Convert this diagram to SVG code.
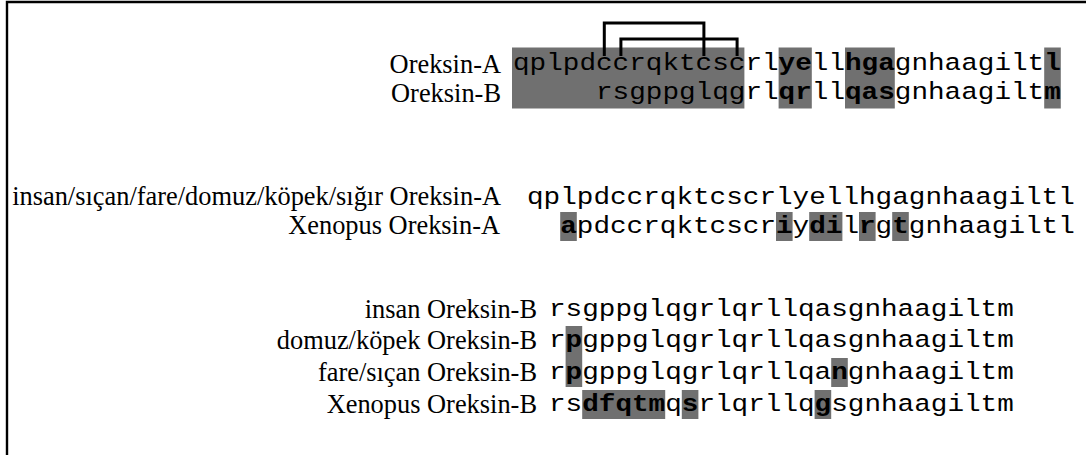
<svg xmlns="http://www.w3.org/2000/svg" width="1086" height="455" viewBox="0 0 1086 455">
<style>
.lbl{font-family:"Liberation Serif","Times New Roman",serif;font-size:26.4px;fill:#000;text-anchor:end}
.seq{font-family:"Courier New","Liberation Mono",monospace;font-size:24.5px;fill:#000}
.b{font-weight:bold}
.hl{fill:#707070}
.frame{fill:none;stroke:#000;stroke-width:2.4}
.ss{fill:none;stroke:#000;stroke-width:3}
</style>
<rect width="1086" height="455" fill="#fff"/>
<path class="frame" d="M7,455 V2 H1086"/>

<g id="human-orexin-ab">
  <rect class="hl" x="512" y="47.5" width="232.4" height="61"/>
  <rect class="hl" x="778.6" y="47.5" width="33.2" height="61"/>
  <rect class="hl" x="845" y="47.5" width="49.8" height="61"/>
  <rect class="hl" x="1044.2" y="47.5" width="16.6" height="61"/>
  <text class="lbl" x="501" y="73">Oreksin-A</text>
  <text class="lbl" x="501" y="102">Oreksin-B</text>
  <text class="seq" x="513" y="70" textLength="547.8" lengthAdjust="spacingAndGlyphs">qplpdccrqktcscrl<tspan class="b">ye</tspan>ll<tspan class="b">hga</tspan>gnhaagilt<tspan class="b">l</tspan></text>
  <text class="seq" x="596" y="99" textLength="464.8" lengthAdjust="spacingAndGlyphs">rsgppglqgrl<tspan class="b">qr</tspan>ll<tspan class="b">qas</tspan>gnhaagilt<tspan class="b">m</tspan></text>
</g>

<g id="orexin-a-species">
  <rect class="hl" x="560.2" y="212" width="16.6" height="29"/>
  <rect class="hl" x="776" y="212" width="16.6" height="29"/>
  <rect class="hl" x="809.2" y="212" width="33.2" height="29"/>
  <rect class="hl" x="859" y="212" width="16.6" height="29"/>
  <rect class="hl" x="892.2" y="212" width="16.6" height="29"/>
  <text class="lbl" x="501" y="205">insan/sıçan/fare/domuz/köpek/sığır Oreksin-A</text>
  <text class="lbl" x="500" y="234">Xenopus Oreksin-A</text>
  <text class="seq" x="527" y="204" textLength="547.8" lengthAdjust="spacingAndGlyphs">qplpdccrqktcscrlyellhgagnhaagiltl</text>
  <text class="seq" x="560.2" y="233" textLength="514.6" lengthAdjust="spacingAndGlyphs"><tspan class="b">a</tspan>pdccrqktcscr<tspan class="b">i</tspan>y<tspan class="b">di</tspan>l<tspan class="b">r</tspan>g<tspan class="b">t</tspan>gnhaagiltl</text>
</g>

<g id="orexin-b-species">
  <rect class="hl" x="565.6" y="326" width="16.6" height="61"/>
  <rect class="hl" x="831.2" y="358" width="16.6" height="29"/>
  <rect class="hl" x="582.2" y="390" width="83" height="29"/>
  <rect class="hl" x="681.8" y="390" width="16.6" height="29"/>
  <rect class="hl" x="814.6" y="390" width="16.6" height="29"/>
  <text class="lbl" x="537" y="318">insan Oreksin-B</text>
  <text class="lbl" x="537" y="349">domuz/köpek Oreksin-B</text>
  <text class="lbl" x="537" y="381">fare/sıçan Oreksin-B</text>
  <text class="lbl" x="537" y="413">Xenopus Oreksin-B</text>
  <text class="seq" x="549" y="316" textLength="464.8" lengthAdjust="spacingAndGlyphs">rsgppglqgrlqrllqasgnhaagiltm</text>
  <text class="seq" x="549" y="347" textLength="464.8" lengthAdjust="spacingAndGlyphs">r<tspan class="b">p</tspan>gppglqgrlqrllqasgnhaagiltm</text>
  <text class="seq" x="549" y="379" textLength="464.8" lengthAdjust="spacingAndGlyphs">r<tspan class="b">p</tspan>gppglqgrlqrllqa<tspan class="b">n</tspan>gnhaagiltm</text>
  <text class="seq" x="549" y="411" textLength="464.8" lengthAdjust="spacingAndGlyphs">rs<tspan class="b">dfqtm</tspan>q<tspan class="b">s</tspan>rlqrllq<tspan class="b">g</tspan>sgnhaagiltm</text>
</g>

<g id="connectors">
  <path class="ss" d="M604.3,56 V23 H703.9 V56"/>
  <path class="ss" d="M620.9,56 V39 H737.1 V56"/>
</g>
</svg>
